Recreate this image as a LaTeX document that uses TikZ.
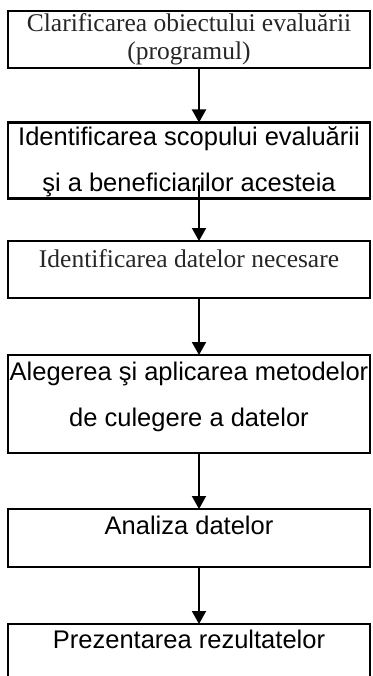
\documentclass[tikz,border=0pt]{standalone}
\usepackage{fontspec}
\setmainfont{Liberation Serif}
\newfontfamily\arialfont{Liberation Sans}
\usepackage{tikz}
\usetikzlibrary{positioning,arrows.meta}

\newcommand{\topgap}[1]{\rule{0pt}{#1}}
\newcommand{\botgap}[1]{\rule[-#1]{0pt}{#1}}

\begin{document}
\begin{tikzpicture}[x=1pt, y=1pt,
  box/.style={draw, line width=2.5pt, inner sep=0pt, outer sep=0pt, minimum width=362pt, align=center},
  serif/.style={font=\fontsize{25.5}{28}\selectfont, text=black!85},
  sans/.style={font=\arialfont\fontsize{25.5}{46}\selectfont},
  arr/.style={-{Triangle[width=14pt,length=13pt]}, line width=2pt}]

\useasboundingbox (0,0) rectangle (372,-676);
\clip (0,0) rectangle (372,-676);

% Nodes
\node[box, serif, anchor=north] (clar) at (189,-11) {\topgap{20.5pt}Clarificarea obiectului evaluării\\(programul)\botgap{8.5pt}};
\node[box, sans, below=54.5pt of clar] (scop) {\topgap{23.5pt}Identificarea scopului evaluării\\şi a beneficiarilor acesteia\botgap{6.5pt}};
\node[box, serif, below=42.5pt of scop] (date) {\topgap{26pt}Identificarea datelor necesare\botgap{31pt}};
\node[box, sans, below=57pt of date] (meto) {\topgap{25pt}Alegerea şi aplicarea metodelor\\de culegere a datelor\botgap{27pt}};
\node[box, sans, below=56pt of meto] (anal) {\topgap{25pt}Analiza datelor\botgap{33pt}};
\node[box, sans, below=57pt of anal] (prez) {\topgap{24pt}Prezentarea rezultatelor\botgap{34pt}};

% Arrows
\draw[arr] ([xshift=10pt]clar.south) -- ([xshift=10pt]scop.north);
\draw[arr] ([xshift=10pt,yshift=13pt]scop.south) -- ([xshift=10pt]date.north);
\draw[arr] ([xshift=10pt]date.south) -- ([xshift=10pt]meto.north);
\draw[arr] ([xshift=10pt]meto.south) -- ([xshift=10pt]anal.north);
\draw[arr] ([xshift=10pt]anal.south) -- ([xshift=10pt]prez.north);

\end{tikzpicture}
\end{document}
